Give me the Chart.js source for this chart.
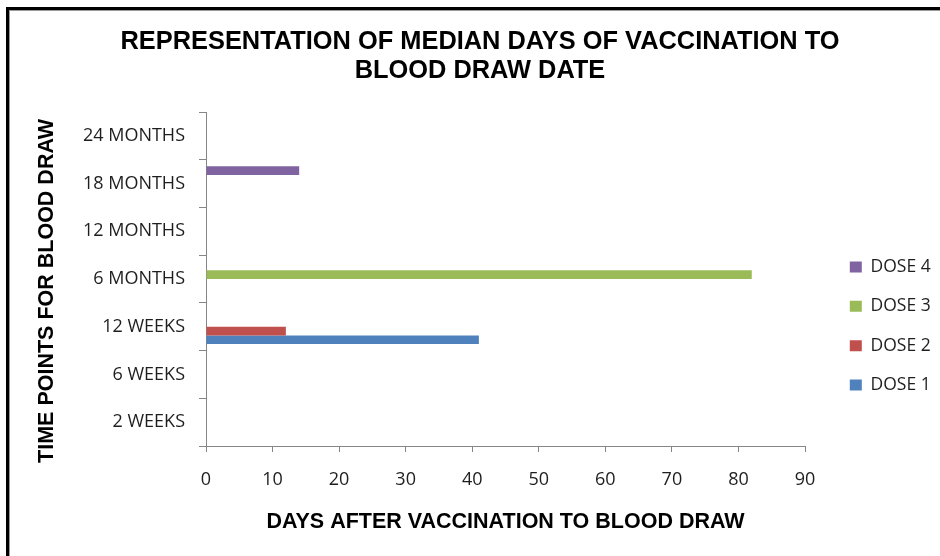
<!DOCTYPE html>
<html>
<head>
<meta charset="utf-8">
<script src="https://cdn.jsdelivr.net/npm/chart.js@4"></script>
<style>
  html, body { margin: 0; padding: 0; background: #fff; }
  #wrap { position: relative; width: 940px; height: 556px; overflow: hidden; }
  #c { position: absolute; left: 0; top: 0; }
  .frame1 { position: absolute; left: 6px; top: 7px; width: 1000px; height: 600px; border-left: 3px solid #000; border-top: 3px solid #000; }
  .frame2 { position: absolute; left: 9px; top: 10px; width: 1000px; height: 600px; border-left: 1px solid #9a9a9a; border-top: 1px solid #9a9a9a; }
</style>
</head>
<body>
<div id="wrap">
  <canvas id="c" width="940" height="556"></canvas>
  <div class="frame1"></div>
  <div class="frame2"></div>
</div>
<script>
// Categories listed from top to bottom of the chart
const categories = ['24 MONTHS', '18 MONTHS', '12 MONTHS', '6 MONTHS', '12 WEEKS', '6 WEEKS', '2 WEEKS'];
const dose1 = [null, null, null, null, 41, null, null];
const dose2 = [null, null, null, null, 12, null, null];
const dose3 = [null, null, null, 82, null, null, null];
const dose4 = [null, 14, null, null, null, null, null];
const xTicks = [0, 10, 20, 30, 40, 50, 60, 70, 80, 90];

const chartTitle = ['REPRESENTATION OF MEDIAN DAYS OF VACCINATION TO', 'BLOOD DRAW DATE'];
const xTitle = 'DAYS AFTER VACCINATION TO BLOOD DRAW';
const yTitle = 'TIME POINTS FOR BLOOD DRAW    ';

const AXIS = '#868686';
const TXT = '#1e1e1e';
const tickFont = { family: "'Open Sans', 'Noto Sans', sans-serif", size: 18 };
const legendFont = { family: "'Open Sans', 'Noto Sans', sans-serif", size: 17.5 };
const axisTitleFont = { family: "'Liberation Sans', Arial, sans-serif", size: 21.5, weight: 'bold' };

// shift legend to the right of the plot like in the reference
const legendShift = {
  id: 'legendShift',
  beforeDraw(chart) {
    const lg = chart.legend;
    if (!lg) return;
    const w = lg.width;
    lg.left = chart.chartArea.right + 23;
    lg.right = lg.left + w;
  }
};

new Chart(document.getElementById('c'), {
  type: 'bar',
  data: {
    labels: categories,
    datasets: [
      { label: 'DOSE 4', data: dose4, backgroundColor: '#8064A2' },
      { label: 'DOSE 3', data: dose3, backgroundColor: '#9BBB59' },
      { label: 'DOSE 2', data: dose2, backgroundColor: '#C0504D' },
      { label: 'DOSE 1', data: dose1, backgroundColor: '#4F81BD' }
    ]
  },
  plugins: [legendShift],
  options: {
    indexAxis: 'y',
    responsive: false,
    animation: false,
    categoryPercentage: 4 / 5.5,
    barPercentage: 1,
    layout: { padding: { left: 20, right: 0, top: 10, bottom: 0 } },
    plugins: {
      tooltip: { enabled: false },
      title: {
        display: true,
        text: chartTitle,
        color: '#000',
        font: { family: "'Liberation Sans', Arial, sans-serif", size: 25.4, weight: 'bold', lineHeight: 1.154 },
        padding: { top: 17.35, bottom: 26.05 }
      },
      legend: {
        display: true,
        position: 'right',
        align: 'center',
        title: { display: true, text: ' ', font: { size: 10 }, padding: { top: 74, bottom: 0 } },
        labels: {
          color: TXT,
          font: legendFont,
          boxWidth: 12,
          boxHeight: 11,
          padding: 21.8
        }
      }
    },
    scales: {
      y: {
        type: 'category',
        offset: true,
        grid: { display: true, drawOnChartArea: false, drawTicks: true, tickLength: 7, color: AXIS, offset: true },
        border: { display: true, color: AXIS, width: 1 },
        ticks: { color: TXT, font: tickFont, padding: 14 },
        title: { display: true, text: yTitle, color: '#000', font: axisTitleFont, padding: { top: 14, bottom: 0 } },
        afterFit(scale) { scale.width = 186; }
      },
      x: {
        type: 'linear',
        min: 0,
        max: 90,
        afterBuildTicks(scale) { scale.ticks = xTicks.map(v => ({ value: v })); },
        grid: { display: true, drawOnChartArea: false, drawTicks: true, tickLength: 6, color: AXIS },
        border: { display: true, color: AXIS, width: 1 },
        ticks: { color: TXT, font: tickFont, padding: 17.2, maxRotation: 0 },
        title: { display: true, text: xTitle, color: '#000', font: axisTitleFont, padding: { top: 0, bottom: 20.6 } },
        afterFit(scale) { scale.height = 110; scale.paddingRight = 135; }
      }
    }
  }
});
</script>
</body>
</html>
